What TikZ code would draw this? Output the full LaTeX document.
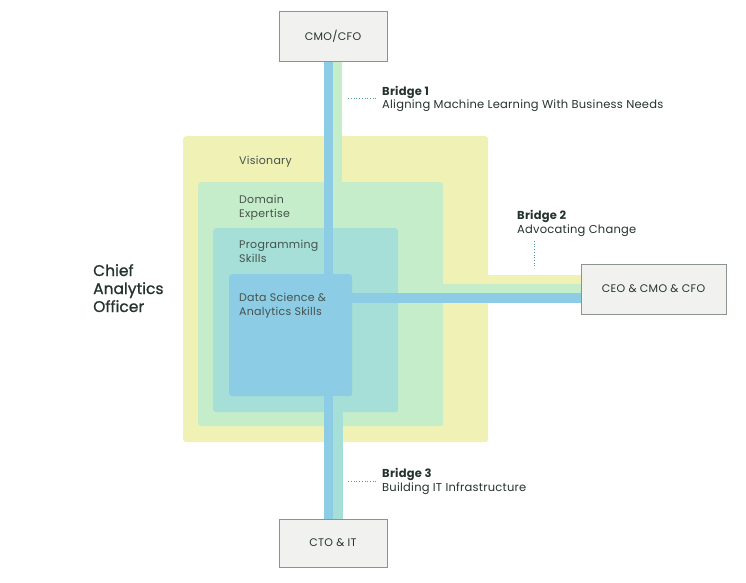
\documentclass[tikz,border=0pt]{standalone}
\usepackage{fontspec}
\setmainfont{Poppins}
\usetikzlibrary{positioning}

\definecolor{visyellow}{HTML}{F0F2B5}
\definecolor{domgreen}{HTML}{C6EDC9}
\definecolor{progteal}{HTML}{A5DFD7}
\definecolor{dsblue}{HTML}{8CCCE5}
\definecolor{boxgray}{HTML}{F1F1EF}
\definecolor{boxline}{HTML}{8C9490}
\definecolor{inkdark}{HTML}{25332E}
\definecolor{leadteal}{HTML}{4E9C9C}

\begin{document}
\begin{tikzpicture}[x=1pt,y=-1pt,
  zone/.style={rounded corners=3pt,inner sep=0pt,anchor=north west},
  role/.style={draw=boxline,line width=1pt,fill=boxgray,inner sep=0pt,font=\fontsize{11}{12}\selectfont\addfontfeatures{LetterSpace=3},text=inkdark},
  zonetext/.style={anchor=base west,align=left,inner sep=0pt,font=\fontsize{11}{14}\selectfont\addfontfeatures{LetterSpace=2.5},text=inkdark!85},
  bridgetext/.style={anchor=base west,align=left,inner sep=0pt,font=\fontsize{11.5}{13.5}\selectfont\addfontfeatures{LetterSpace=2},text=inkdark},
  leader/.style={leadteal,dotted,line width=0.7pt}]
\useasboundingbox (0,0) rectangle (746,582);

% nested skill zones
\node[zone,fill=visyellow,minimum width=305,minimum height=306] (vis) at (183,136) {};
\node[zone,fill=domgreen,minimum width=245,minimum height=244] (dom) at (198,182) {};
\node[zone,fill=progteal,minimum width=185,minimum height=184] (prog) at (213,228) {};
\node[zone,fill=dsblue,minimum width=123,minimum height=122] (dsa) at (229,274) {};

% roles
\node[role,minimum width=108,minimum height=50] (cmo) at (333,36) {CMO/CFO};
\node[role,minimum width=145,minimum height=50] (ceo) at (653.5,289) {CEO \& CMO \& CFO};
\node[role,minimum width=108,minimum height=48] (cto) at (333,543) {CTO \& IT};

% bridge 1
\coordinate (b1l) at ([xshift=-9.5pt]cmo.south);
\coordinate (b1r) at ([xshift=9pt]cmo.south);
\fill[domgreen] (cmo.south) rectangle (b1r |- prog.north);
\fill[dsblue] (b1l) rectangle (cmo.south |- dsa.center);

% bridge 2
\coordinate (b2a) at ([yshift=14pt]ceo.west);
\coordinate (b2b) at ([yshift=5pt]ceo.west);
\coordinate (b2c) at ([yshift=-4pt]ceo.west);
\coordinate (b2d) at ([yshift=-14pt]ceo.west);
\fill[visyellow] (b2a -| dom.east) rectangle (b2b);
\fill[domgreen] (b2b -| prog.east) rectangle (b2c);
\fill[dsblue] (b2c -| dsa.center) rectangle (b2d);

% bridge 3
\coordinate (b3l) at ([xshift=-9pt]cto.north);
\coordinate (b3r) at ([xshift=9.5pt]cto.north);
\fill[progteal] (cto.north |- dsa.south) rectangle (b3r);
\fill[dsblue] (b3l |- dsa.center) rectangle (cto.north);

% redraw roles on top
\node[role,minimum width=108,minimum height=50] at (cmo) {CMO/CFO};
\node[role,minimum width=145,minimum height=50] at (ceo) {CEO \& CMO \& CFO};
\node[role,minimum width=108,minimum height=48] at (cto) {CTO \& IT};

% zone labels
\node[zonetext] (vislab) at (239,164) {Visionary};
\node[zonetext] (domlab) at (239,217) {Domain\\Expertise};
\node[zonetext] (proglab) at (239,262) {Programming\\Skills};
\node[zonetext] (dslab) at (239,315) {Data Science \&\\Analytics Skills};

\node[anchor=base west,align=left,inner sep=0pt,font=\fontsize{15.5}{18}\selectfont\addfontfeatures{FakeBold=1},text=inkdark] (cao) at (93,312) {Chief\\Analytics\\Officer};

% bridge labels
\node[bridgetext] (b1) at (382,108.5) {\textbf{Bridge 1}\\Aligning Machine Learning With Business Needs};
\node[bridgetext] (b2) at (517,233) {\textbf{Bridge 2}\\Advocating Change};
\node[bridgetext] (b3) at (382,491) {\textbf{Bridge 3}\\Building IT Infrastructure};

\draw[leader] ([shift={(-6,-10.5)}]b1.base west) -- ++(-29,0);
\draw[leader] ([shift={(17,8)}]b2.base west) -- ++(0,27);
\draw[leader] ([shift={(-6,-10)}]b3.base west) -- ++(-29,0);
\end{tikzpicture}
\end{document}
